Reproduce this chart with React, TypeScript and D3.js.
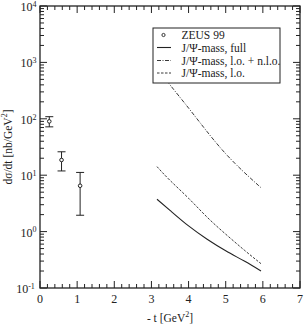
import React from "react";
import * as d3 from "d3";

const zeusT = [0.25, 0.58, 1.08];
const zeusVal = [90, 18.6, 6.5];
const zeusHi = [109, 26, 11.2];
const zeusLo = [72, 11.9, 1.95];

const curveT = [3.15, 3.5, 4.0, 4.5, 5.0, 5.5, 5.95];
const fullVal = [3.74, 2.38, 1.26, 0.733, 0.457, 0.3, 0.2];
const loNloVal = [800, 400, 155, 59, 24, 11.2, 6.0];
const loVal = [14.2, 8.1, 3.9, 1.8, 0.9, 0.47, 0.27];

const xTicks = [0, 1, 2, 3, 4, 5, 6, 7];
const yExps = [-1, 0, 1, 2, 3, 4];

const legendLabels = ["ZEUS 99", "J/\u03A8-mass, full", "J/\u03A8-mass, l.o. + n.l.o.", "J/\u03A8-mass, l.o."];

const W = 306, H = 330;
const L = 40, R = 300, T = 6, B = 288;
const FONT = "'Liberation Serif', 'Times New Roman', serif";
const INK = "#222";

export default function App() {
  const x = d3.scaleLinear().domain([0, 7]).range([L, R]);
  const y = d3.scaleLog().domain([0.1, 10000]).range([B, T]);
  const line = d3.line<number>().x((_, i) => x(curveT[i])).y((v) => y(v)).curve(d3.curveNatural);

  const xMinor: number[] = [];
  for (let i = 0; i <= 35; i++) if (i % 5 !== 0) xMinor.push(i * 0.2);
  const yMinor: number[] = [];
  for (let e = -1; e < 4; e++) for (let m = 2; m <= 9; m++) yMinor.push(m * Math.pow(10, e));

  const major = 7, minor = 4;

  const legendRows = [35, 47.5, 60.5, 73];
  const lgX = 153, lgY = 28, lgW = 127, lgH = 55;

  return (
    <svg width={W} height={H} style={{ position: "absolute", left: 0, top: 0, background: "#fff" }} fontFamily={FONT}>
      <defs>
        <clipPath id="plot"><rect x={L} y={T} width={R - L} height={B - T} /></clipPath>
      </defs>
      <g clipPath="url(#plot)" fill="none" stroke={INK}>
        <path d={line(fullVal) || ""} strokeWidth={1.1} />
        <path d={line(loNloVal) || ""} strokeWidth={0.9} strokeDasharray="4,1.5,1,1.5" />
        <path d={line(loVal) || ""} strokeWidth={0.9} strokeDasharray="2.5,1.5" />
      </g>
      <g stroke={INK} strokeWidth={1}>
        {zeusT.map((t, i) => (
          <g key={i}>
            <line x1={x(t)} x2={x(t)} y1={y(zeusHi[i])} y2={y(zeusLo[i])} />
            <line x1={x(t) - 4} x2={x(t) + 4} y1={y(zeusHi[i])} y2={y(zeusHi[i])} />
            <line x1={x(t) - 4} x2={x(t) + 4} y1={y(zeusLo[i])} y2={y(zeusLo[i])} />
            <circle cx={x(t)} cy={y(zeusVal[i])} r={1.8} fill="#fff" />
          </g>
        ))}
      </g>
      <rect x={L} y={T} width={R - L} height={B - T} fill="none" stroke={INK} strokeWidth={1.3} />
      <g stroke={INK} strokeWidth={1}>
        {xTicks.map((t) => (
          <g key={"xm" + t}>
            <line x1={x(t)} x2={x(t)} y1={B} y2={B - major} />
            <line x1={x(t)} x2={x(t)} y1={T} y2={T + major} />
          </g>
        ))}
        {xMinor.map((t) => (
          <g key={"xn" + t}>
            <line x1={x(t)} x2={x(t)} y1={B} y2={B - minor} />
            <line x1={x(t)} x2={x(t)} y1={T} y2={T + minor} />
          </g>
        ))}
        {yExps.map((e) => (
          <g key={"ym" + e}>
            <line x1={L} x2={L + major} y1={y(Math.pow(10, e))} y2={y(Math.pow(10, e))} />
            <line x1={R} x2={R - major} y1={y(Math.pow(10, e))} y2={y(Math.pow(10, e))} />
          </g>
        ))}
        {yMinor.map((v, i) => (
          <g key={"yn" + i}>
            <line x1={L} x2={L + minor} y1={y(v)} y2={y(v)} />
            <line x1={R} x2={R - minor} y1={y(v)} y2={y(v)} />
          </g>
        ))}
      </g>
      <g fill={INK} fontSize={12}>
        {xTicks.map((t) => (
          <text key={"xl" + t} x={x(t)} y={B + 15} textAnchor="middle">{t}</text>
        ))}
        {yExps.map((e) => {
          const yy = y(Math.pow(10, e));
          const ex = String(e);
          return (
            <g key={"yl" + e}>
              <text x={37 - ex.length * 4.4} y={yy + 5} textAnchor="end">10</text>
              <text x={37 - ex.length * 4.4} y={yy + 0.8} fontSize={8}>{ex}</text>
            </g>
          );
        })}
      </g>
      <text x={170} y={322} textAnchor="middle" fontSize={11.5} fill={INK}>
        - t [GeV<tspan dy={-5} fontSize={8}>2</tspan><tspan dy={5}>]</tspan>
      </text>
      <text transform={`translate(12,147) rotate(-90)`} textAnchor="middle" fontSize={11.5} fill={INK}>
        d{"\u03C3"}/dt [nb/GeV<tspan dy={-5} fontSize={8}>2</tspan><tspan dy={5}>]</tspan>
      </text>
      <rect x={lgX} y={lgY} width={lgW} height={lgH} fill="#fff" stroke={INK} strokeWidth={1} />
      <g fill={INK} fontSize={11.5}>
        <circle cx={163.5} cy={legendRows[0]} r={1.6} fill="#fff" stroke={INK} strokeWidth={0.9} />
        <line x1={157} x2={171} y1={legendRows[1]} y2={legendRows[1]} stroke={INK} strokeWidth={1.1} />
        <line x1={157} x2={171} y1={legendRows[2]} y2={legendRows[2]} stroke={INK} strokeWidth={0.9} strokeDasharray="4,1.5,1,1.5" />
        <line x1={157} x2={171} y1={legendRows[3]} y2={legendRows[3]} stroke={INK} strokeWidth={0.9} strokeDasharray="2.5,1.5" />
        {legendLabels.map((s, i) => (
          <text key={s} x={181.5} y={legendRows[i] + 4}>{s}</text>
        ))}
      </g>
    </svg>
  );
}
